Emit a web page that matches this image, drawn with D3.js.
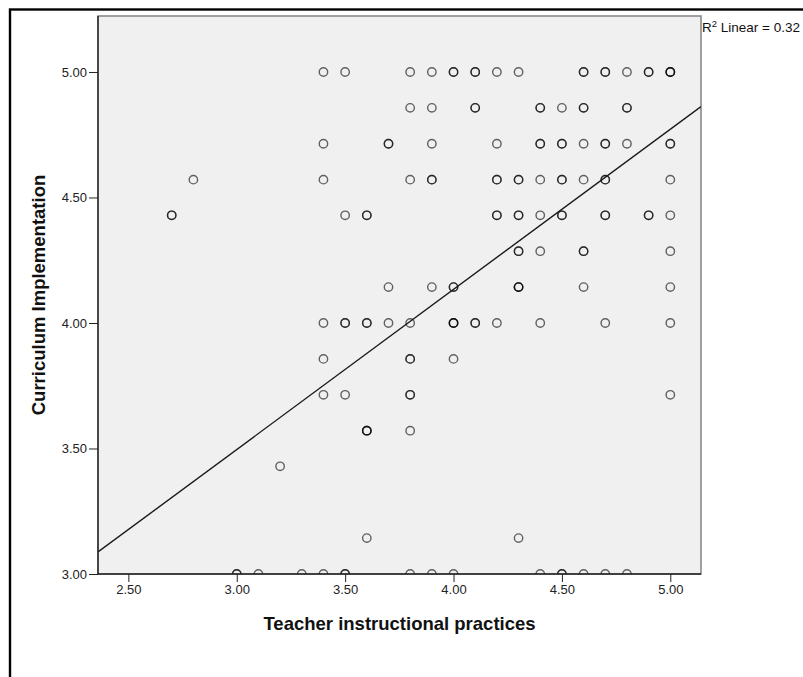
<!DOCTYPE html>
<html>
<head>
<meta charset="utf-8">
<script src="https://cdn.jsdelivr.net/npm/d3@7"></script>
<style>
    body { margin: 0; background: #fff; }
    svg { display: block; font-family: Arial, "Liberation Sans", sans-serif; }
    .tick text { font-family: Arial, "Liberation Sans", sans-serif; font-size: 13px; fill: #222; }
    .tick line { stroke: #222; }
    .axis-title { font-size: 18.5px; font-weight: bold; fill: #111; }
    .r2-label { font-size: 13.5px; fill: #111; }
</style>
</head>
<body>
<div id="graphic"></div>
<script>
(function(d3){

    // Canvas size
    let width = 803, height = 677;

    // Plot area edges
    let left = 98, right = 701, top = 16, bottom = 574;

    // Curriculum Implementation levels (rows of the scatter, top to bottom)
    let implLevels = [5.0, 4.857, 4.714, 4.571, 4.429, 4.286, 4.143, 4.0, 3.857, 3.714, 3.571, 3.429, 3.143, 3.0];

    // Teacher instructional practices scores found on each row
    let practiceByLevel = [
        [3.4, 3.5, 3.8, 3.9, 4.0, 4.1, 4.2, 4.3, 4.6, 4.7, 4.8, 4.9, 5.0],
        [3.8, 3.9, 4.1, 4.4, 4.5, 4.6, 4.8],
        [3.4, 3.7, 3.9, 4.2, 4.4, 4.5, 4.6, 4.7, 4.8, 5.0],
        [2.8, 3.4, 3.8, 3.9, 4.2, 4.3, 4.4, 4.5, 4.6, 4.7, 5.0],
        [2.7, 3.5, 3.6, 4.2, 4.3, 4.4, 4.5, 4.7, 4.9, 5.0],
        [4.3, 4.4, 4.6, 5.0],
        [3.7, 3.9, 4.0, 4.3, 4.6, 5.0],
        [3.4, 3.5, 3.6, 3.7, 3.8, 4.0, 4.1, 4.2, 4.4, 4.7, 5.0],
        [3.4, 3.8, 4.0],
        [3.4, 3.5, 3.8, 5.0],
        [3.6, 3.8],
        [3.2],
        [3.6, 4.3],
        [3.0, 3.1, 3.3, 3.4, 3.5, 3.8, 3.9, 4.0, 4.4, 4.5, 4.6, 4.7, 4.8]
    ];

    // How many cases sit on each point (overlaps draw darker)
    let casesByLevel = [
        [1, 1, 1, 1, 2, 2, 1, 1, 2, 2, 1, 2, 3],
        [1, 1, 2, 2, 1, 2, 2],
        [1, 2, 1, 1, 2, 2, 1, 2, 1, 2],
        [1, 1, 1, 2, 2, 2, 1, 2, 1, 2, 1],
        [2, 1, 2, 2, 2, 1, 2, 2, 2, 1],
        [2, 1, 2, 1],
        [1, 1, 2, 3, 1, 1],
        [1, 2, 2, 1, 1, 3, 2, 1, 1, 1, 1],
        [1, 2, 1],
        [1, 1, 2, 1],
        [3, 1],
        [1],
        [1, 1],
        [2, 1, 1, 1, 2, 1, 1, 1, 1, 2, 1, 1, 1]
    ];

    // Tick labels
    let xTicks = [2.5, 3.0, 3.5, 4.0, 4.5, 5.0];
    let yTicks = [3.0, 3.5, 4.0, 4.5, 5.0];

    // Fit line: Curriculum = intercept + slope * Practices
    let fitIntercept = 1.582, fitSlope = 0.638, rSquared = 0.32;

    // Axis domains
    let xDomain = [2.36, 5.1416], yDomain = [3.0, 5.223];

    let svg = d3.select('#graphic')
                .append('svg')
                .attr('width', width)
                .attr('height', height);

    // Outer frame (runs off the right and bottom edges)
    svg.append('rect')
       .attr('x', 10)
       .attr('y', 9.5)
       .attr('width', 820)
       .attr('height', 700)
       .attr('fill', 'none')
       .attr('stroke', '#000')
       .attr('stroke-width', 2.4);

    let x = d3.scaleLinear().domain(xDomain).range([left, right]);
    let y = d3.scaleLinear().domain(yDomain).range([bottom, top]);

    // Plot background
    svg.append('rect')
       .attr('x', left)
       .attr('y', top)
       .attr('width', right - left)
       .attr('height', bottom - top)
       .attr('fill', '#f0f0f0')
       .attr('stroke', '#8a8a8a')
       .attr('stroke-width', 1.6);

    svg.append('clipPath')
       .attr('id', 'plot-clip')
       .append('rect')
       .attr('x', left)
       .attr('y', top)
       .attr('width', right - left)
       .attr('height', bottom - top);

    // Flatten the rows, repeating overlapping cases
    let points = [];
    implLevels.forEach((lvl, i) => {
        practiceByLevel[i].forEach((p, j) => {
            for(let k = 0; k < casesByLevel[i][j]; k++) points.push({ x: p, y: lvl });
        });
    });

    let plot = svg.append('g').attr('clip-path', 'url(#plot-clip)');

    plot.selectAll('circle')
        .data(points)
        .enter()
        .append('circle')
        .attr('cx', d => x(d.x))
        .attr('cy', d => y(d.y))
        .attr('r', 4.2)
        .attr('fill', 'none')
        .attr('stroke', '#000')
        .attr('stroke-opacity', 0.6)
        .attr('stroke-width', 1.4);

    // Linear fit line across the whole x range
    let fitLine = d3.line()
        .x(d => x(d))
        .y(d => y(fitIntercept + fitSlope * d));

    plot.append('path')
        .attr('d', fitLine(xDomain))
        .attr('fill', 'none')
        .attr('stroke', '#1a1a1a')
        .attr('stroke-width', 1.4);

    // Axes
    let fmt = d3.format('.2f');

    svg.append('g')
       .attr('transform', `translate(${left},0)`)
       .call(d3.axisLeft(y).tickValues(yTicks).tickFormat(fmt).tickSize(9).tickPadding(2))
       .call(g => g.select('.domain').remove());

    svg.append('g')
       .attr('transform', `translate(0,${bottom})`)
       .call(d3.axisBottom(x).tickValues(xTicks).tickFormat(fmt).tickSize(8).tickPadding(3))
       .call(g => g.select('.domain').remove());

    // Left and bottom axis lines
    svg.append('line')
       .attr('x1', left).attr('x2', left)
       .attr('y1', top).attr('y2', bottom)
       .attr('stroke', '#222').attr('stroke-width', 1.4);

    svg.append('line')
       .attr('x1', left).attr('x2', right)
       .attr('y1', bottom).attr('y2', bottom)
       .attr('stroke', '#222').attr('stroke-width', 1.4);

    // Axis titles
    svg.append('text')
       .attr('class', 'axis-title')
       .attr('x', (left + right) / 2)
       .attr('y', 630)
       .attr('text-anchor', 'middle')
       .text('Teacher instructional practices');

    svg.append('text')
       .attr('class', 'axis-title')
       .attr('transform', `translate(45,${(top + bottom) / 2}) rotate(-90)`)
       .attr('text-anchor', 'middle')
       .text('Curriculum Implementation');

    // R-squared label
    let r2 = svg.append('text')
       .attr('class', 'r2-label')
       .attr('x', right + 1)
       .attr('y', 32);
    r2.append('tspan').text('R');
    r2.append('tspan').attr('dy', -5).style('font-size', '9.5px').text('2');
    r2.append('tspan').attr('dy', 5).text(` Linear = ${rSquared.toFixed(2)}`);

})(window.d3);
</script>
</body>
</html>
